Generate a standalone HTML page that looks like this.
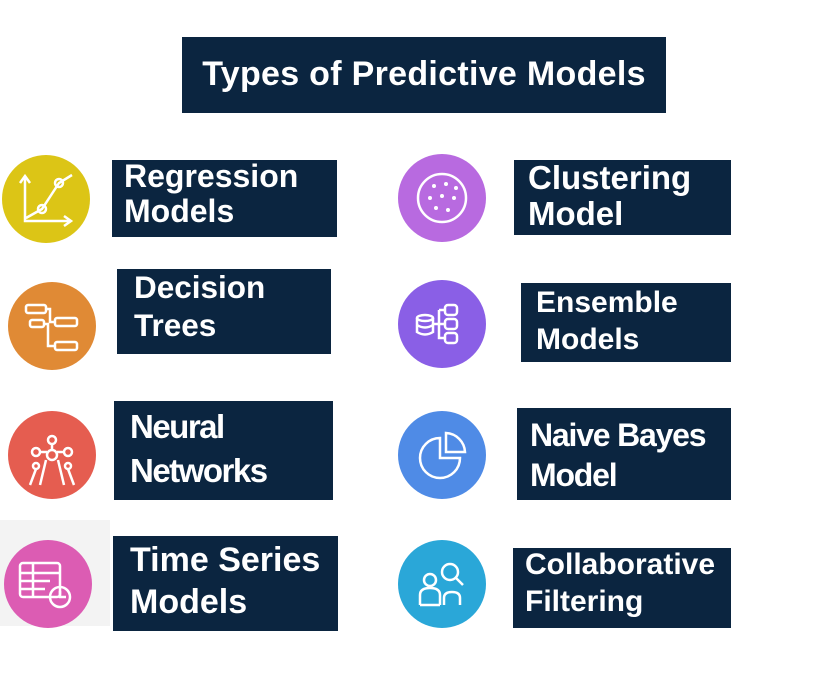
<!DOCTYPE html>
<html><head><style>
body{margin:0;width:816px;height:693px;background:#fff;position:relative;overflow:hidden;font-family:"Liberation Sans",Arial,sans-serif}
.b{position:absolute;background:#0b2540;color:#fff;font-weight:bold;white-space:nowrap}
.b div{position:absolute;left:0;line-height:1}
.c{position:absolute;width:88px;height:88px;border-radius:50%}
svg{position:absolute;left:0;top:0}
</style></head><body>
<div class="b" style="left:182px;top:37px;width:484px;height:76px;font-size:34px;text-align:center;line-height:74px;letter-spacing:0.3px">Types of Predictive Models</div>
<div style="position:absolute;left:0;top:520px;width:110px;height:106px;background:#f3f3f3"></div>

<div class="c" style="left:2px;top:155px;background:#dcc516"></div>
<div class="c" style="left:8px;top:282px;background:#e08a35"></div>
<div class="c" style="left:8px;top:411px;background:#e55d50"></div>
<div class="c" style="left:4px;top:540px;background:#dc5cb3"></div>
<div class="c" style="left:398px;top:154px;background:#b86ae0"></div>
<div class="c" style="left:398px;top:280px;background:#8a5fe6"></div>
<div class="c" style="left:398px;top:411px;background:#4f8be6"></div>
<div class="c" style="left:398px;top:540px;background:#2aa7d8"></div>

<svg width="816" height="693" fill="none" stroke="#fff" stroke-width="2.5">
<path d="M25 178V221H70M20 183L25 176L30 183M64 216L71 221L64 226M26 218L42 209L59 183L72 175"/>
<circle cx="42" cy="209" r="4"/><circle cx="59" cy="183" r="4"/>
<rect x="26" y="305" width="20" height="8" rx="2"/><rect x="30" y="320" width="14" height="7" rx="2"/><rect x="55" y="318" width="22" height="8" rx="2"/><rect x="55" y="342" width="22" height="8" rx="2"/>
<path d="M46 309H50V322H55M44 324H48V346H55"/>
<circle cx="52" cy="440" r="4"/><circle cx="36" cy="452" r="4"/><circle cx="68" cy="452" r="4"/><circle cx="52" cy="455" r="5"/><circle cx="36" cy="466" r="3"/><circle cx="68" cy="466" r="3"/>
<path d="M36 469L30 485M68 469L74 485M46 460L40 485M58 460L64 485M52 445V450M40 452H47M57 452H64"/>
<rect x="20" y="563" width="40" height="34" rx="3"/><path d="M20 573H60M20 581H50M20 589H45M33 563V597"/><circle cx="60" cy="597" r="10"/><path d="M60 591V597H66"/>
<circle cx="442" cy="198" r="24"/>
<g fill="#fff" stroke="none"><circle cx="434" cy="186" r="2"/><circle cx="446" cy="184" r="2"/><circle cx="430" cy="198" r="2"/><circle cx="442" cy="196" r="2"/><circle cx="454" cy="198" r="2"/><circle cx="436" cy="208" r="2"/><circle cx="448" cy="210" r="2"/><circle cx="456" cy="188" r="2"/></g>
<ellipse cx="425" cy="318" rx="8" ry="3"/><path d="M417 318V332Q425 337 433 332V318M417 325Q425 330 433 325M433 324H445"/>
<rect x="445" y="305" width="12" height="10" rx="3"/><rect x="445" y="319" width="12" height="10" rx="3"/><rect x="445" y="333" width="12" height="10" rx="3"/><path d="M439 310V338H445M439 310H445"/>
<path d="M440 438A20 20 0 1 0 460 458H440Z"/><path d="M446 433A20 20 0 0 1 465 452H446Z"/>
<circle cx="450" cy="572" r="8"/><path d="M456 578L463 585M420 605V595Q420 588 430 588Q440 588 440 595V605M420 605H440M444 605V598Q444 592 452 592Q460 592 460 598V605"/><circle cx="430" cy="580" r="6"/>
</svg>

<div class="b" style="left:112px;top:160px;width:225px;height:77px;font-size:32px"><div style="left:12px;top:0px">Regression</div><div style="left:12px;top:35px">Models</div></div>
<div class="b" style="left:117px;top:269px;width:214px;height:85px;font-size:31.5px"><div style="left:17px;top:3px">Decision</div><div style="left:17px;top:41px">Trees</div></div>
<div class="b" style="left:114px;top:401px;width:219px;height:99px;font-size:33px;letter-spacing:-1.5px"><div style="left:16px;top:9px">Neural</div><div style="left:16px;top:53px">Networks</div></div>
<div class="b" style="left:113px;top:536px;width:225px;height:95px;font-size:34px"><div style="left:17px;top:7px">Time Series</div><div style="left:17px;top:49px">Models</div></div>
<div class="b" style="left:514px;top:160px;width:217px;height:75px;font-size:33px"><div style="left:14px;top:1px">Clustering</div><div style="left:14px;top:37px">Model</div></div>
<div class="b" style="left:521px;top:283px;width:210px;height:79px;font-size:30px"><div style="left:15px;top:5px">Ensemble</div><div style="left:15px;top:42px">Models</div></div>
<div class="b" style="left:517px;top:408px;width:214px;height:92px;font-size:32px;letter-spacing:-1.2px"><div style="left:13px;top:11px">Naive Bayes</div><div style="left:13px;top:51px">Model</div></div>
<div class="b" style="left:513px;top:548px;width:218px;height:80px;font-size:30px"><div style="left:12px;top:2px">Collaborative</div><div style="left:12px;top:39px">Filtering</div></div>
</body></html>
